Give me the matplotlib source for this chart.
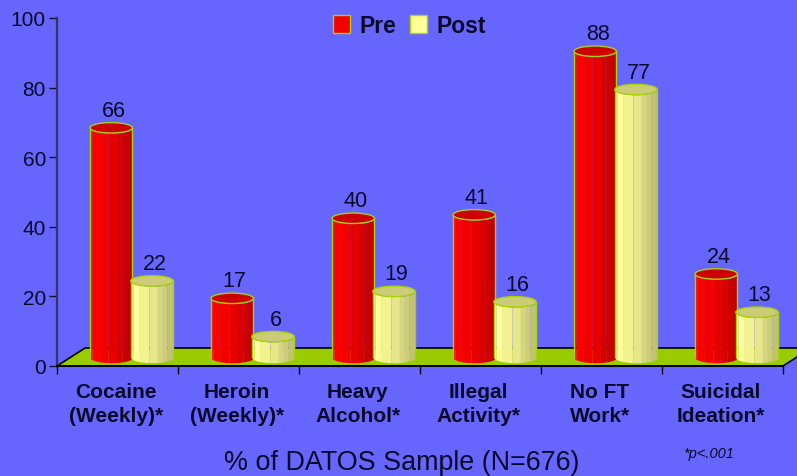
import numpy as np
import matplotlib
matplotlib.use("Agg")
import matplotlib.pyplot as plt
from matplotlib.patches import Ellipse, Patch, Polygon

plt.rcParams['font.family'] = ['Liberation Sans', 'DejaVu Sans']

# Values
categories = ["Cocaine\n(Weekly)*", "Heroin\n(Weekly)*", "Heavy\nAlcohol*",
              "Illegal\nActivity*", "No FT\nWork*", "Suicidal\nIdeation*"]
pre_values = [66, 17, 40, 41, 88, 24]
post_values = [22, 6, 19, 16, 77, 13]
y_ticks = [0, 20, 40, 60, 80, 100]

BG = '#6666FF'
EDGE = '#99CC00'
BAR_EDGE = '#A8D400'
INK = '#0A0A28'
RED = (1.0, 0.0, 0.0)
RED_TOP = '#CC0000'
YELLOW = (1.0, 1.0, 0.6)
YELLOW_TOP = '#CCCC78'

# Shading of the cylinder sides, light on the left, dark on the right
strip_edges = np.array([0, 0.05, 0.2, 0.42, 0.62, 0.74, 0.86, 1.0])
strip_shades = [0.97, 1.0, 0.95, 0.9, 0.84, 0.8, 0.76]

fig = plt.figure(figsize=(7.97, 4.77), dpi=100, facecolor=BG)
ax = fig.add_axes([57 / 797, (477 - 367) / 477, 726 / 797, 348 / 477], facecolor='none')
ax.set_xlim(0, 6)
ax.set_ylim(0, 100)

# Depth of the 3D floor and of the bar base, in data units
floor_dx = 28 / 121
floor_dy = 5.17
base_y = 2.45
ell_h = 1.5
bar_w = 0.35


def draw_cylinder(x0, value, color, top_color):
    xs = np.linspace(0, 1, 80)
    arc = ell_h * np.sqrt(np.clip(1 - (2 * xs - 1) ** 2, 0, 1))
    for i, shade in enumerate(strip_shades):
        mask = (xs >= strip_edges[i]) & (xs <= strip_edges[i + 1] + 0.013)
        c = tuple(v * shade for v in color)
        ax.fill_between(x0 + xs[mask] * bar_w,
                        base_y - arc[mask],
                        base_y + value - arc[mask],
                        color=c, lw=0, zorder=3)
    ax.plot([x0, x0], [base_y, base_y + value], color=BAR_EDGE, lw=1.0, zorder=3)
    ax.plot([x0 + bar_w] * 2, [base_y, base_y + value], color=BAR_EDGE, lw=1.0, zorder=3)
    ax.add_patch(Ellipse((x0 + bar_w / 2, base_y + value), bar_w, 2 * ell_h,
                         facecolor=top_color, edgecolor=BAR_EDGE, lw=1.0, zorder=3))
    ax.text(x0 + bar_w / 2 + 0.02, base_y + value + 2.0, str(value), ha='center', va='bottom',
            fontsize=15.5, color=INK, zorder=5)


# Floor
ax.add_patch(Polygon([(0, 0), (floor_dx, floor_dy), (6 + floor_dx, floor_dy), (6, 0)],
                     closed=True, facecolor=EDGE, edgecolor='black', lw=1.2,
                     clip_on=False, zorder=1))

for i in range(len(categories)):
    draw_cylinder(i + 0.273, pre_values[i], RED, RED_TOP)
    draw_cylinder(i + 0.61, post_values[i], YELLOW, YELLOW_TOP)

for side in ['top', 'right']:
    ax.spines[side].set_visible(False)
ax.spines['left'].set_color('#333366')
ax.spines['left'].set_linewidth(1.6)
ax.spines['bottom'].set_color('black')
ax.spines['bottom'].set_linewidth(1.4)
ax.spines['left'].set_zorder(2)

ax.set_yticks(y_ticks)
ax.tick_params(axis='y', length=6, width=1, color='#111133', labelsize=15,
               labelcolor=INK, pad=2)
ax.set_xticks(range(7))
ax.set_xticklabels([])
ax.tick_params(axis='x', which='major', length=6, width=1, color='black')
ax.set_xticks(np.arange(6) + 0.485, categories, minor=True)
ax.tick_params(axis='x', which='minor', length=0, pad=11.5, labelsize=15)
for lab in ax.get_xticklabels(minor=True):
    lab.set_fontweight('bold')
    lab.set_color(INK)
    lab.set_linespacing(1.32)

ax.set_xlabel("% of DATOS Sample (N=676)", x=0.475, fontsize=19.4, color=INK, labelpad=17.5)
ax.text(709 / 797, 23 / 477, "*p<.001", transform=fig.transFigure, ha='center', va='center',
        style='italic', fontsize=10.5, color=INK)

handles = [Patch(facecolor=(0.95, 0, 0), edgecolor=BAR_EDGE, lw=1, label='Pre'),
           Patch(facecolor=(1, 1, 0.6), edgecolor=BAR_EDGE, lw=1, label='Post')]
leg = ax.legend(handles=handles, ncol=2, frameon=False, loc='upper center',
                bbox_to_anchor=(0.485, 1.07), prop={'weight': 'bold', 'size': 16.5},
                handlelength=0.75, handleheight=0.85, handletextpad=0.4, columnspacing=0.6)
for t in leg.get_texts():
    t.set_color(INK)

fig.savefig('out.png', dpi=100, facecolor=BG)
